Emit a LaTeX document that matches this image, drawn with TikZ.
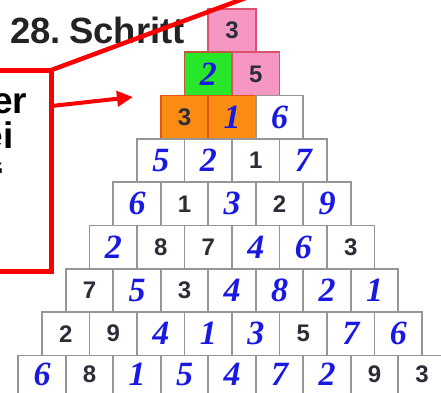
\documentclass[tikz,border=0pt]{standalone}
\usepackage{fontspec}
\setmainfont{Liberation Sans}
\newfontfamily\bluefont{Liberation Serif}
\usetikzlibrary{arrows.meta}
\definecolor{cellpink}{RGB}{245,150,195}
\definecolor{pinkedge}{RGB}{220,80,110}
\definecolor{cellgreen}{RGB}{40,230,40}
\definecolor{greenedge}{RGB}{190,90,60}
\definecolor{cellorange}{RGB}{250,140,20}
\definecolor{orangeedge}{RGB}{225,85,20}
\definecolor{celledge}{RGB}{150,150,150}
\definecolor{digblue}{RGB}{25,25,225}
\definecolor{digdark}{RGB}{45,45,55}
\definecolor{titlegray}{RGB}{35,35,35}
\definecolor{markred}{RGB}{250,0,0}
\tikzset{
  cell/.style={draw=celledge, fill=white, line width=1.6pt, minimum width=47.5pt, minimum height=43.3pt, inner sep=0pt, outer sep=0pt},
  digit/.style={inner sep=0pt, outer sep=0pt},
  dk/.style={font=\fontsize{24}{24}\selectfont\bfseries, text=digdark},
  db/.style={font=\fontsize{34}{34}\selectfont\bluefont\bfseries\itshape, text=digblue},
  dy9/.style={yshift=2.5pt},
  f11/.style={fill=cellpink, draw=pinkedge},
  f21/.style={fill=cellgreen, draw=greenedge},
  f22/.style={fill=cellpink, draw=pinkedge},
  f31/.style={fill=cellorange, draw=orangeedge},
  f32/.style={fill=cellorange, draw=orangeedge},
  redline/.style={draw=markred, line width=5pt},
  boxtext/.style={font=\fontsize{37}{37}\selectfont\bfseries, text=black, inner sep=0pt, anchor=base east}
}
\begin{document}
\begin{tikzpicture}[x=1pt,y=-1pt]
\useasboundingbox (0,0) rectangle (441,392);
% pyramid
\foreach \row [count=\r] in {
  {3/k},
  {2/b,5/k},
  {3/k,1/b,6/b},
  {5/b,2/b,1/k,7/b},
  {6/b,1/k,3/b,2/k,9/b},
  {2/b,8/k,7/k,4/b,6/b,3/k},
  {7/k,5/b,3/k,4/b,8/b,2/b,1/b},
  {2/k,9/k,4/b,1/b,3/b,5/k,7/b,6/b},
  {6/b,8/k,1/b,5/b,4/b,7/b,2/b,9/k,3/k}} {
  \foreach \d/\t [count=\i] in \row {
    \node[cell, f\r\i/.try] (c-\r-\i) at ({232+(\i-(\r+1)/2)*47.5},{30.6+(\r-1)*43.3}) {};
    \node[digit, d\t, dy\r/.try] (n-\r-\i) at (c-\r-\i.center) {\d};
  }
}
% title
\node[anchor=base west, inner sep=0pt, font=\fontsize{36.5}{36.5}\selectfont\bfseries, text=titlegray] (title) at (10,43) {28.\kern-2pt\ Schritt};
% red box with text fragments
\coordinate (boxTL) at (-10,70);
\coordinate (boxTR) at (51.5,70);
\coordinate (boxBR) at (51.5,271);
\coordinate (boxBL) at (-10,271);
\draw[redline, line join=miter] (boxTL) -- (boxTR) -- (boxBR) -- (boxBL);
\node[boxtext] (t1) at (27.5,113) {er};
\node[boxtext] (t2) at (13.5,148) {ei};
\node[boxtext] (t3) at (5.5,188) {“};
% red line to upper right
\coordinate (lineEnd) at (290,-18.5);
\draw[redline, line width=4.5pt] (boxTR) -- (lineEnd);
% arrow
\coordinate (arrowStart) at (51.5,106);
\coordinate (arrowTip) at (133,97);
\draw[redline, line width=4pt, -{Triangle[length=16pt,width=15pt]}] (arrowStart) -- (arrowTip);
\end{tikzpicture}
\end{document}
